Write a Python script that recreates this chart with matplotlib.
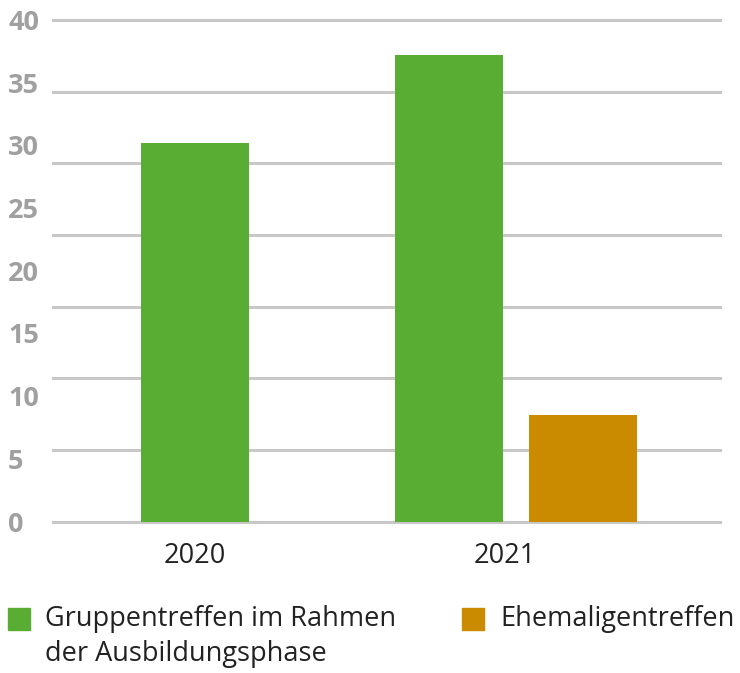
import numpy as np
import matplotlib.pyplot as plt
from matplotlib.patches import Rectangle

# Daten
jahre = ["2020", "2021"]
gruppentreffen = [30.2, 37.2]
ehemaligentreffen = [None, 8.5]
serien = ["Gruppentreffen im Rahmen\nder Ausbildungsphase", "Ehemaligentreffen"]
farben = ["#59ad33", "#cb8b00"]
yticks = [0, 5, 10, 15, 20, 25, 30, 35, 40]

plt.rcParams['font.family'] = ['Open Sans', 'DejaVu Sans']

W, H = 740, 673
fig = plt.figure(figsize=(W/100, H/100), dpi=100)
ax = fig.add_axes([53/W, (H-521.5)/H, 667/W, 501.5/H])

breite = 0.336
versatz = 0.209
x = np.arange(len(jahre))
for i in range(len(jahre)):
    g = gruppentreffen[i]
    e = ehemaligentreffen[i]
    if e is None:
        ax.bar(x[i], g, breite, color=farben[0], zorder=3)
    else:
        ax.bar(x[i]-versatz, g, breite, color=farben[0], zorder=3)
        ax.bar(x[i]+versatz, e, breite, color=farben[1], zorder=3)

# Gitterlinien (im Original nicht auf den Beschriftungen)
for gy in np.linspace(0, 40, 8):
    ax.axhline(gy, color="#c8c8c8", lw=2.2, zorder=1, clip_on=False)

ax.set_xlim(-0.442, 1.636)
ax.set_ylim(0, 40)
ax.set_yticks(yticks)
ax.set_yticklabels([str(t) for t in yticks])
ax.set_xticks(x - np.array([0, 0.034]))
ax.set_xticklabels(jahre)
ax.tick_params(axis='y', length=0, pad=32.4, labelsize=19.5, labelcolor="#a0a0a0")
for lab in ax.get_yticklabels():
    lab.set_horizontalalignment('left')
    lab.set_fontweight('bold')
ax.tick_params(axis='x', length=0, pad=15, labelsize=19.5, labelcolor="#222222")
for s in ax.spines.values():
    s.set_visible(False)

# Legende
def px(xp, yp):
    return xp/W, 1 - yp/H

fig.patches.append(Rectangle(px(8, 630), 22/W, 22/H, transform=fig.transFigure, color=farben[0]))
fig.text(*px(45, 605), serien[0], va='top', ha='left', fontsize=19.5, color="#222222", linespacing=1.32)
fig.patches.append(Rectangle(px(462, 630), 22/W, 22/H, transform=fig.transFigure, color=farben[1]))
fig.text(*px(500, 605), serien[1], va='top', ha='left', fontsize=19.5, color="#222222")

fig.savefig("out.png", dpi=100)
